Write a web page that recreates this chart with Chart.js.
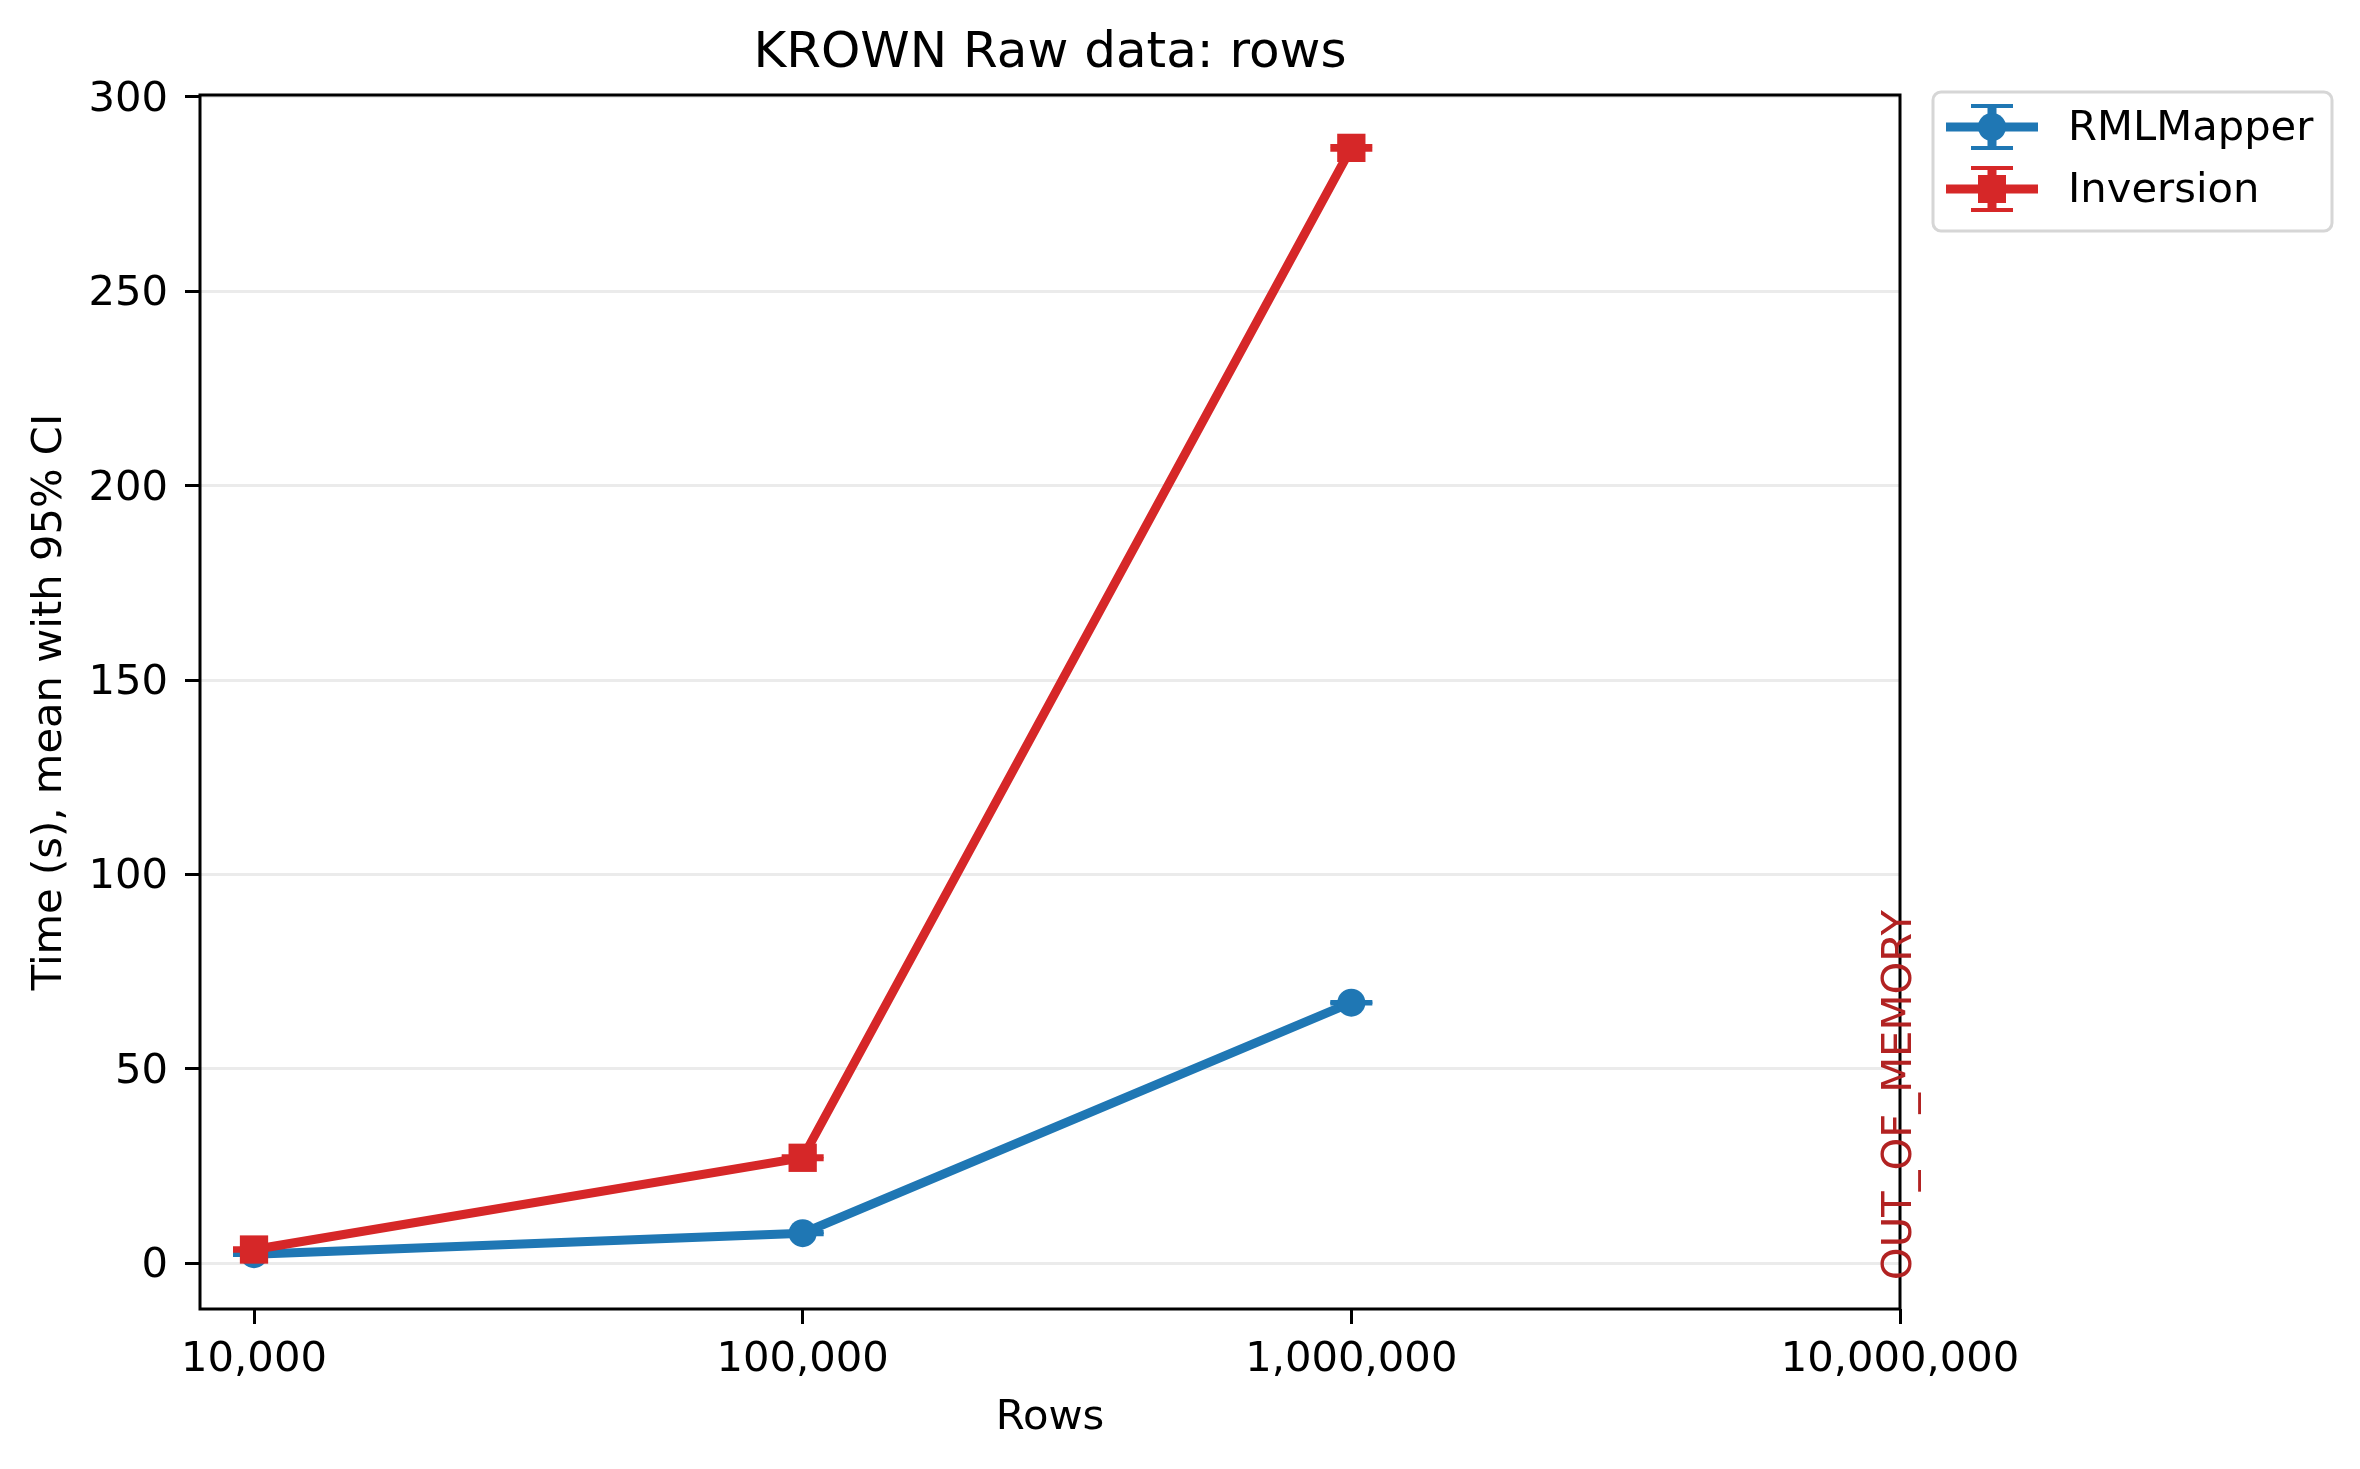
<!DOCTYPE html>
<html>
<head>
<meta charset="utf-8">
<script src="https://cdn.jsdelivr.net/npm/chart.js@4/dist/chart.umd.min.js"></script>
<style>
  html, body { margin: 0; padding: 0; background: #fff; }
</style>
</head>
<body>
<canvas id="chart" width="2360" height="1469"></canvas>
<script>
// data
const rows = [10000, 100000, 1000000];
const rmlMapper = [2.3, 7.7, 67.0];
const rmlMapperCi = [0.2, 0.3, 0.2];
const inversion = [3.5, 27.1, 286.9];
const inversionCi = [0.3, 0.4, 0.5];
const xTicks = [10000, 100000, 1000000, 10000000];
const yTicks = [0, 50, 100, 150, 200, 250, 300];
const oomLabel = 'OUT_OF_MEMORY';

const BLUE = '#1f77b4';
const RED = '#d62728';
const FONT = 'DejaVu Sans';

// caps of the 95% CI error bars, drawn under the markers
const errorCaps = {
  id: 'errorCaps',
  beforeDatasetsDraw(chart) {
    const ctx = chart.ctx;
    const xs = chart.scales.x, ys = chart.scales.y;
    chart.data.datasets.forEach((ds) => {
      ctx.save();
      ctx.strokeStyle = ds.borderColor;
      ctx.lineWidth = 4;
      ds.data.forEach((p) => {
        const px = xs.getPixelForValue(p.x);
        [p.y - p.ci, p.y + p.ci].forEach((v) => {
          const py = ys.getPixelForValue(v);
          ctx.beginPath();
          ctx.moveTo(px - 21, py);
          ctx.lineTo(px + 21, py);
          ctx.stroke();
        });
      });
      ctx.restore();
    });
  },
  afterDraw(chart) {
    const ctx = chart.ctx;
    const a = chart.chartArea;
    const xs = chart.scales.x, ys = chart.scales.y;
    ctx.save();
    // spines
    ctx.strokeStyle = '#000';
    ctx.lineWidth = 3;
    ctx.strokeRect(a.left, a.top, a.right - a.left, a.bottom - a.top);

    // out of memory marker at the last row count
    ctx.fillStyle = '#b22222';
    ctx.font = '41.7px "' + FONT + '"';
    ctx.translate(xs.getPixelForValue(xTicks[3]) + 11, ys.getPixelForValue(0) + 17);
    ctx.rotate(-Math.PI / 2);
    ctx.textAlign = 'left';
    ctx.textBaseline = 'alphabetic';
    ctx.fillText(oomLabel, 0, 0);
    ctx.restore();

    // legend
    ctx.save();
    const bx = 1933, by = 92, bw = 399, bh = 139, r = 8;
    ctx.beginPath();
    ctx.moveTo(bx + r, by);
    ctx.arcTo(bx + bw, by, bx + bw, by + bh, r);
    ctx.arcTo(bx + bw, by + bh, bx, by + bh, r);
    ctx.arcTo(bx, by + bh, bx, by, r);
    ctx.arcTo(bx, by, bx + bw, by, r);
    ctx.closePath();
    ctx.fillStyle = 'rgba(255,255,255,0.8)';
    ctx.fill();
    ctx.strokeStyle = '#d6d6d6';
    ctx.lineWidth = 3;
    ctx.stroke();

    const entries = [
      { label: 'RMLMapper', color: BLUE, shape: 'circle', y: 127 },
      { label: 'Inversion', color: RED, shape: 'rect', y: 189 }
    ];
    entries.forEach((e) => {
      const cx = 1992;
      ctx.strokeStyle = e.color;
      ctx.fillStyle = e.color;
      ctx.lineWidth = 9;
      ctx.beginPath();
      ctx.moveTo(1946, e.y);
      ctx.lineTo(2038, e.y);
      ctx.moveTo(cx, e.y - 21);
      ctx.lineTo(cx, e.y + 21);
      ctx.stroke();
      ctx.lineWidth = 4;
      ctx.beginPath();
      ctx.moveTo(cx - 21, e.y - 21);
      ctx.lineTo(cx + 21, e.y - 21);
      ctx.moveTo(cx - 21, e.y + 21);
      ctx.lineTo(cx + 21, e.y + 21);
      ctx.stroke();
      ctx.beginPath();
      if (e.shape === 'circle') {
        ctx.arc(cx, e.y, 14, 0, Math.PI * 2);
      } else {
        ctx.rect(cx - 14, e.y - 14, 28, 28);
      }
      ctx.fill();
      ctx.fillStyle = '#000';
      ctx.font = '41.7px "' + FONT + '"';
      ctx.textAlign = 'left';
      ctx.textBaseline = 'middle';
      ctx.fillText(e.label, 2068, e.y + 2);
    });
    ctx.restore();
  }
};

const ctx = document.getElementById('chart').getContext('2d');

new Chart(ctx, {
  type: 'line',
  data: {
    datasets: [
      {
        label: 'RMLMapper',
        data: rows.map((r, i) => ({ x: r, y: rmlMapper[i], ci: rmlMapperCi[i] })),
        borderColor: BLUE,
        backgroundColor: BLUE,
        borderWidth: 9,
        pointStyle: 'circle',
        pointRadius: 14,
        pointBorderWidth: 0,
        order: 1
      },
      {
        label: 'Inversion',
        data: rows.map((r, i) => ({ x: r, y: inversion[i], ci: inversionCi[i] })),
        borderColor: RED,
        backgroundColor: RED,
        borderWidth: 9,
        pointStyle: 'rect',
        pointRadius: 20,
        pointBorderWidth: 0,
        order: 0
      }
    ]
  },
  options: {
    responsive: false,
    animation: false,
    layout: { padding: { left: 0, right: 460, top: 0, bottom: 0 } },
    plugins: {
      legend: { display: false },
      tooltip: { enabled: false },
      title: {
        display: true,
        text: 'KROWN Raw data: rows',
        color: '#000',
        fullSize: false,
        font: { family: FONT, size: 50, weight: 'normal' },
        padding: { top: 24, bottom: 11 }
      }
    },
    scales: {
      x: {
        type: 'logarithmic',
        min: 7972,
        max: 10000000,
        afterBuildTicks: (scale) => { scale.ticks = xTicks.map((v) => ({ value: v })); },
        afterFit: (scale) => { scale.height = 160; },
        border: { display: false },
        grid: {
          drawOnChartArea: false,
          drawTicks: true,
          tickLength: 15,
          tickColor: '#000',
          tickWidth: 3
        },
        ticks: {
          autoSkip: false,
          maxRotation: 0,
          color: '#000',
          padding: 11,
          font: { family: FONT, size: 41.7 },
          callback: (v) => Number(v).toLocaleString('en-US')
        },
        title: {
          display: true,
          text: 'Rows',
          color: '#000',
          font: { family: FONT, size: 41.7 },
          padding: { top: 4, bottom: 26 }
        }
      },
      y: {
        min: -11.8,
        max: 300.5,
        afterBuildTicks: (scale) => { scale.ticks = yTicks.map((v) => ({ value: v })); },
        afterFit: (scale) => { scale.width = 200; },
        border: { display: false },
        grid: {
          color: '#ebebeb',
          lineWidth: 3,
          drawTicks: true,
          tickLength: 15,
          tickColor: '#000',
          tickWidth: 3
        },
        ticks: {
          color: '#000',
          padding: 17,
          labelOffset: 3,
          font: { family: FONT, size: 41.7 }
        },
        title: {
          display: true,
          text: 'Time (s), mean with 95% CI',
          color: '#000',
          font: { family: FONT, size: 41.7 },
          padding: { top: 25, bottom: 4 }
        }
      }
    }
  },
  plugins: [errorCaps]
});
</script>
</body>
</html>
